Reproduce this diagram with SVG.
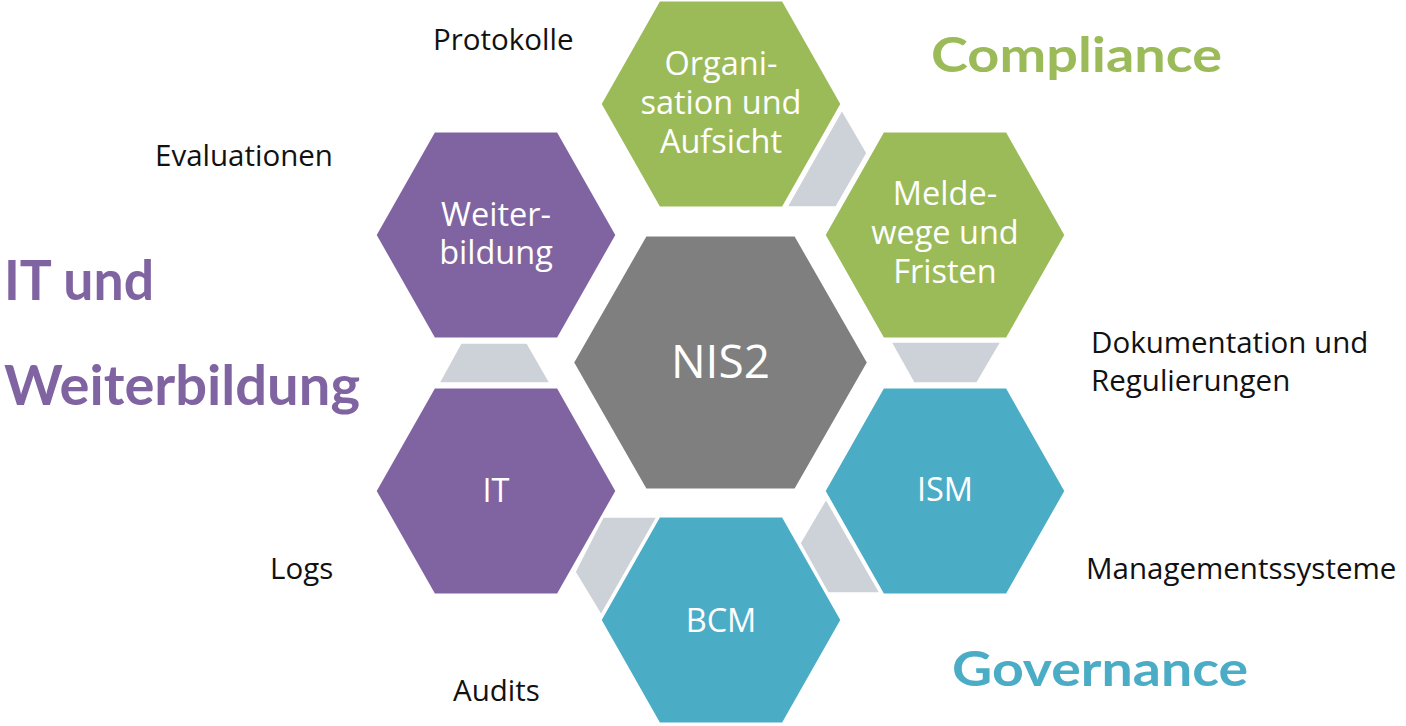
<svg xmlns="http://www.w3.org/2000/svg" width="1406" height="726" viewBox="0 0 1406 726">
<style>
.bg{fill:#ffffff}
.hex{stroke:#ffffff;stroke-width:3;stroke-linejoin:miter}
.green{fill:#9BBB59}
.purple{fill:#8064A2}
.teal{fill:#4BACC6}
.gray{fill:#7F7F7F}
.conn{fill:#CDD1D8;stroke:#ffffff;stroke-width:1.5}
.hl{font-family:"Open Sans","Noto Sans","Liberation Sans",sans-serif;font-size:32.5px;fill:#ffffff;text-anchor:middle}
.big{font-family:"Open Sans","Noto Sans","Liberation Sans",sans-serif;font-size:46px;fill:#ffffff;text-anchor:middle}
.lbl{font-family:"Open Sans","Noto Sans","Liberation Sans",sans-serif;font-size:29.5px;fill:#111111}
.cat{font-family:Lato,"Open Sans","Liberation Sans",sans-serif;font-weight:bold}
</style>
<rect class="bg" x="0" y="0" width="1406" height="726"/>
<g id="connectors">
<polygon class="conn" points="842,110 867,153 836,207 787,207"/>
<polygon class="conn" points="891,342 1001,342 977,383 914,383"/>
<polygon class="conn" points="826,499 880,593 828,593 800,543"/>
<polygon class="conn" points="603,517 657,517 601,615 575,572"/>
<polygon class="conn" points="461,343 527,343 550,383 439,383"/>
</g>
<g id="node-nis2">
<polygon class="hex gray" points="572.5,362.5 645.5,235 795.5,235 868.5,362.5 795.5,490 645.5,490"/>
<text class="big" x="720.5" y="378">NIS2</text>
</g>
<g id="node-organisation">
<polygon class="hex green" points="600,104 659,0 783,0 842,104 783,208 659,208"/>
<text class="hl" x="721" y="75">Organi-</text>
<text class="hl" x="721" y="114">sation und</text>
<text class="hl" x="721" y="153">Aufsicht</text>
</g>
<g id="node-meldewege">
<polygon class="hex green" points="824,235 883,131 1007,131 1066,235 1007,339 883,339"/>
<text class="hl" x="945" y="205">Melde-</text>
<text class="hl" x="945" y="244">wege und</text>
<text class="hl" x="945" y="283">Fristen</text>
</g>
<g id="node-ism">
<polygon class="hex teal" points="824,491 883,387 1007,387 1066,491 1007,595 883,595"/>
<text class="hl" x="945" y="501">ISM</text>
</g>
<g id="node-bcm">
<polygon class="hex teal" points="600,620 659,516 783,516 842,620 783,724 659,724"/>
<text class="hl" x="721" y="632">BCM</text>
</g>
<g id="node-it">
<polygon class="hex purple" points="375,491 434,387 558,387 617,491 558,595 434,595"/>
<text class="hl" x="496" y="502">IT</text>
</g>
<g id="node-weiterbildung">
<polygon class="hex purple" points="375,235 434,131 558,131 617,235 558,339 434,339"/>
<text class="hl" x="496" y="226">Weiter-</text>
<text class="hl" x="496" y="264">bildung</text>
</g>
<g id="labels">
<text class="lbl" x="433" y="50">Protokolle</text>
<text class="lbl" x="155" y="166">Evaluationen</text>
<text class="lbl" x="1091" y="353">Dokumentation und</text>
<text class="lbl" x="1091" y="391">Regulierungen</text>
<text class="lbl" x="270" y="579">Logs</text>
<text class="lbl" x="1086" y="579">Managementssysteme</text>
<text class="lbl" x="453" y="701">Audits</text>
</g>
<g id="categories">
<text class="cat" x="931" y="72" font-size="47" fill="#9BBB59" textLength="291" lengthAdjust="spacingAndGlyphs">Compliance</text>
<text class="cat" x="952" y="686" font-size="47" fill="#4BACC6" textLength="296" lengthAdjust="spacingAndGlyphs">Governance</text>
<text class="cat" x="4" y="300" font-size="55" fill="#8064A2" textLength="150" lengthAdjust="spacingAndGlyphs">IT und</text>
<text class="cat" x="4" y="405" font-size="55" fill="#8064A2" textLength="356" lengthAdjust="spacingAndGlyphs">Weiterbildung</text>
</g>
</svg>
